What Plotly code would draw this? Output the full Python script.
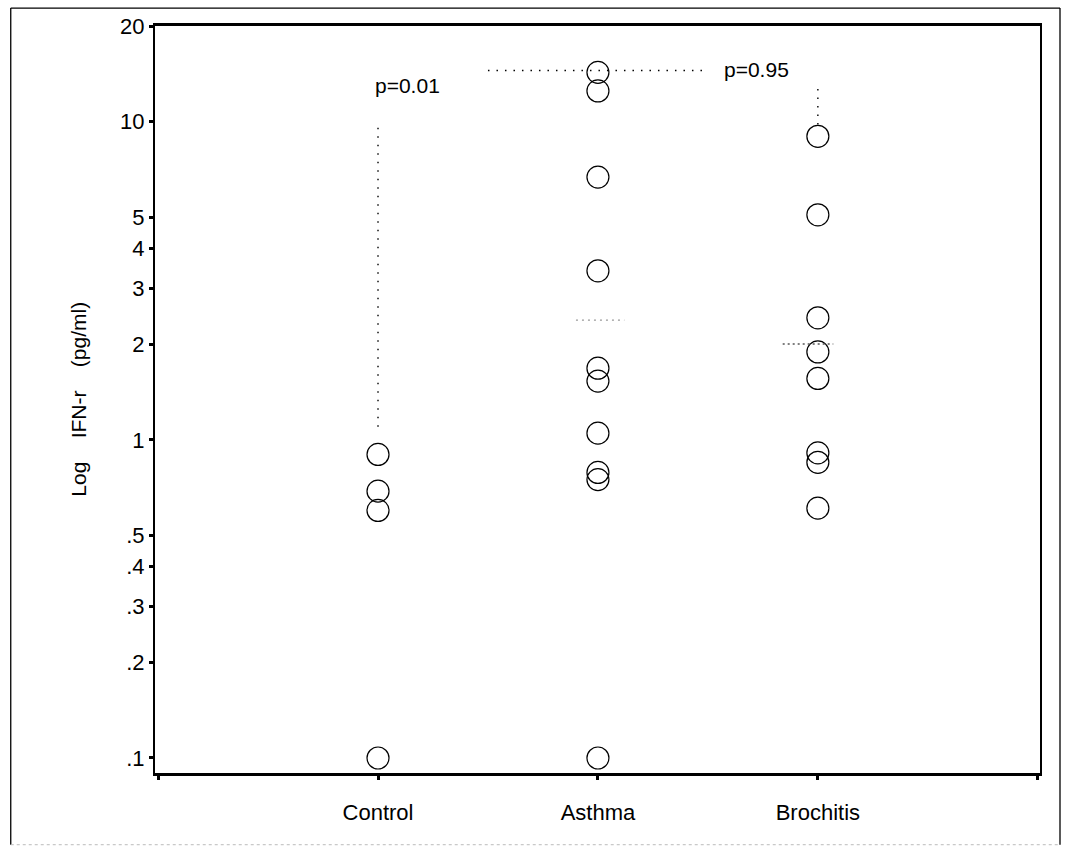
import plotly.graph_objects as go
import math

# ---- data ----
categories = ["Control", "Asthma", "Brochitis"]
control_values = [0.90, 0.69, 0.60, 0.10]
asthma_values = [14.3, 12.5, 6.7, 3.4, 1.68, 1.53, 1.05, 0.79, 0.75, 0.10]
brochitis_values = [9.0, 5.1, 2.42, 1.89, 1.56, 0.91, 0.85, 0.61]
group_lines = [2.38, 2.0]          # Asthma, Brochitis horizontal marks
y_tickvals = [0.1, 0.2, 0.3, 0.4, 0.5, 1, 2, 3, 4, 5, 10, 20]
y_ticktext = [".1", ".2", ".3", ".4", ".5", "1", "2", "3", "4", "5", "10", "20"]
p_labels = ["p=0.01", "p=0.95"]
y_title = "Log\u00a0\u00a0\u00a0\u00a0IFN-r\u00a0\u00a0\u00a0\u00a0(pg/ml)"

FONT = "Liberation Sans"

fig = go.Figure()

series = [control_values, asthma_values, brochitis_values]
for i, vals in enumerate(series):
    fig.add_trace(go.Scatter(
        x=[i + 1] * len(vals), y=vals, mode="markers",
        marker=dict(symbol="circle-open", size=22, color="black",
                    line=dict(width=1.2, color="black")),
        showlegend=False, hoverinfo="y"))

# dotted comparison lines
dot = dict(color="black", width=1.4, dash="1.5px,7px")
fig.add_trace(go.Scatter(x=[1, 1], y=[1.1, 10], mode="lines", line=dot,
                         showlegend=False, hoverinfo="skip"))
fig.add_trace(go.Scatter(x=[1.5, 2.5], y=[14.5, 14.5], mode="lines", line=dot,
                         showlegend=False, hoverinfo="skip"))
fig.add_trace(go.Scatter(x=[3, 3], y=[9.8, 12.7], mode="lines", line=dot,
                         showlegend=False, hoverinfo="skip"))

# group marks (median-like)
fig.add_trace(go.Scatter(x=[1.9, 2.12], y=[group_lines[0]] * 2, mode="lines",
                         line=dict(color="#999999", width=1.2, dash="2px,4px"),
                         showlegend=False, hoverinfo="skip"))
fig.add_trace(go.Scatter(x=[2.84, 3.07], y=[group_lines[1]] * 2, mode="lines",
                         line=dict(color="#555555", width=1.5, dash="2px,3px"),
                         showlegend=False, hoverinfo="skip"))

fig.add_annotation(x=1.135, y=math.log10(13.0), text=p_labels[0], showarrow=False,
                   font=dict(family=FONT, size=21, color="black"))
fig.add_annotation(x=2.72, y=math.log10(14.6), text=p_labels[1], showarrow=False,
                   font=dict(family=FONT, size=21, color="black"))

# y axis title
fig.add_annotation(xref="paper", yref="paper", x=-0.102, y=0.50,
                   text=y_title, textangle=-90, showarrow=False,
                   font=dict(family=FONT, size=21, color="black"))

# outer frame
L, R, T, B = -0.163, 1.0226, 1.024, -0.096
fig.add_shape(type="line", xref="paper", yref="paper", x0=L, x1=R, y0=T, y1=T,
              line=dict(color="black", width=1.3))
fig.add_shape(type="line", xref="paper", yref="paper", x0=L, x1=L, y0=B, y1=T,
              line=dict(color="black", width=1.3))
fig.add_shape(type="line", xref="paper", yref="paper", x0=R, x1=R, y0=B, y1=T,
              line=dict(color="black", width=1.3))
fig.add_shape(type="line", xref="paper", yref="paper", x0=L, x1=R, y0=B, y1=B,
              line=dict(color="#bbbbbb", width=1, dash="dot"))

fig.update_layout(
    width=1066, height=849,
    margin=dict(l=155, r=26, t=26, b=76),
    paper_bgcolor="white", plot_bgcolor="white",
    font=dict(family=FONT, color="black"),
    xaxis=dict(range=[-0.014, 4.01], tickvals=[0, 1, 2, 3, 4],
               ticktext=[""] + categories + [""],
               showgrid=False, zeroline=False, showline=True, linecolor="black",
               linewidth=2.5, mirror=True, ticks="outside", ticklen=4, tickwidth=3,
               tickcolor="black", ticklabelstandoff=14,
               tickfont=dict(family=FONT, size=22, color="black")),
    yaxis=dict(type="log", range=[math.log10(0.0897), math.log10(20)],
               tickvals=y_tickvals, ticktext=y_ticktext,
               showgrid=False, zeroline=False, showline=True, linecolor="black",
               linewidth=2, mirror=True, ticks="outside", ticklen=4, tickwidth=2.5,
               tickcolor="black",
               tickfont=dict(family=FONT, size=22, color="black")),
)

fig.write_html("out.html")
